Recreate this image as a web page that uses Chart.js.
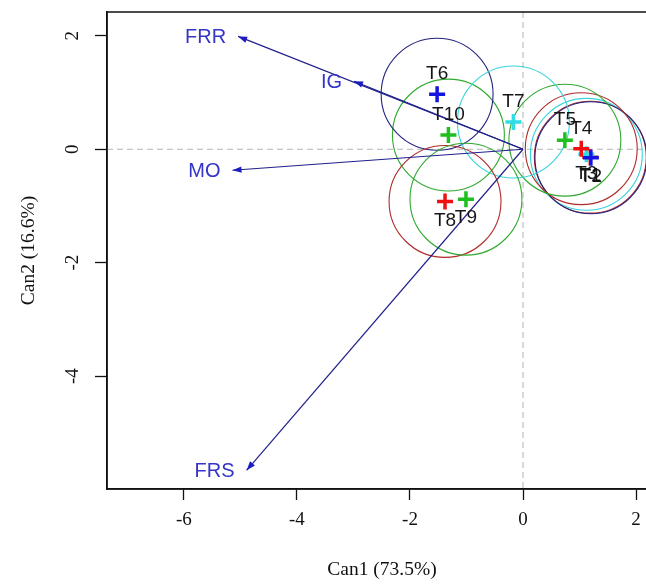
<!DOCTYPE html>
<html>
<head>
<meta charset="utf-8">
<script src="https://cdn.jsdelivr.net/npm/chart.js@4.4.1/dist/chart.umd.min.js"></script>
<style>
  html, body { margin: 0; padding: 0; background: #fff; overflow: hidden; }
  #wrap { width: 658px; height: 585px; }
  #c { width: 658px; height: 585px; }
</style>
</head>
<body>
<div id="wrap"><canvas id="c" width="658" height="585"></canvas></div>
<script>
// Group means on the first two canonical dimensions (drawn in factor-level order)
const groups = ['T1', 'T10', 'T3', 'T2', 'T4', 'T5', 'T6', 'T7', 'T8', 'T9'];
const can1   = [1.19, -1.32, 1.12, 1.20, 1.03, 0.74, -1.52, -0.17, -1.38, -1.01];
const can2   = [-0.14, 0.25, -0.09, -0.15, 0.01, 0.16, 0.97, 0.48, -0.92, -0.88];
// Radius of the confidence circle around each mean (canonical units)
const circleRadius = [0.99, 0.99, 0.99, 0.99, 0.99, 0.99, 0.99, 0.99, 0.99, 0.99];

// Structure coefficients of the response variables
const vars = ['FRR', 'IG', 'MO', 'FRS'];
const vecX = [-5.04, -2.99, -5.14, -4.89];
const vecY = [1.99, 1.20, -0.37, -5.66];

// Axis ticks and limits
const xTicks = [-6, -4, -2, 0, 2];
const yTicks = [2, 0, -2, -4];
const xLimits = [-7.36, 2.37];
const yLimits = [-5.99, 2.42];

// Styles
const pointColors  = ['#ee1111', '#1fbf1f', '#2fdde4', '#1414e0', '#ee1111', '#1fbf1f', '#1414e0', '#2fdde4', '#ee1111', '#1fbf1f'];
const circleColors = ['#b02a2a', '#2fa92f', '#38d4dc', '#23237f', '#b02a2a', '#2fa92f', '#23237f', '#38d4dc', '#b02a2a', '#2fa92f'];
const labelSide    = ['below', 'above', 'below', 'below', 'above', 'above', 'above', 'above', 'below', 'below'];

const overlay = {
  id: 'overlay',
  beforeDatasetsDraw(chart) {
    const { ctx, chartArea: a, scales: { x, y } } = chart;
    ctx.save();
    ctx.beginPath();
    ctx.rect(a.left, a.top, a.right - a.left, a.bottom - a.top);
    ctx.clip();
    // dashed reference lines through the origin
    const x0 = x.getPixelForValue(0), y0 = y.getPixelForValue(0);
    ctx.strokeStyle = '#b5b5b5';
    ctx.lineWidth = 1;
    ctx.setLineDash([6, 4]);
    ctx.beginPath();
    ctx.moveTo(x0, a.top); ctx.lineTo(x0, a.bottom);
    ctx.moveTo(a.left, y0); ctx.lineTo(a.right, y0);
    ctx.stroke();
    ctx.setLineDash([]);
    // confidence circles
    groups.forEach((g, i) => {
      const cx = x.getPixelForValue(can1[i]);
      const cy = y.getPixelForValue(can2[i]);
      const r = Math.abs(x.getPixelForValue(can1[i] + circleRadius[i]) - cx);
      ctx.strokeStyle = circleColors[i];
      ctx.lineWidth = 1.1;
      ctx.beginPath();
      ctx.arc(cx, cy, r, 0, Math.PI * 2);
      ctx.stroke();
    });
    ctx.restore();
  },
  afterDatasetsDraw(chart) {
    const { ctx, chartArea: a, scales: { x, y } } = chart;
    ctx.save();
    const ox = x.getPixelForValue(0), oy = y.getPixelForValue(0);
    // arrowheads and variable names
    vars.forEach((v, i) => {
      const px = x.getPixelForValue(vecX[i]);
      const py = y.getPixelForValue(vecY[i]);
      const ang = Math.atan2(py - oy, px - ox);
      const L = 9, W = 3.2;
      const bx = px - L * Math.cos(ang), by = py - L * Math.sin(ang);
      ctx.fillStyle = '#1c1cc0';
      ctx.beginPath();
      ctx.moveTo(px, py);
      ctx.lineTo(bx + W * Math.sin(ang), by - W * Math.cos(ang));
      ctx.lineTo(bx - W * Math.sin(ang), by + W * Math.cos(ang));
      ctx.closePath();
      ctx.fill();
      ctx.fillStyle = '#3434c8';
      ctx.font = '20px "Liberation Sans", Arial, sans-serif';
      ctx.textAlign = 'right';
      ctx.textBaseline = 'middle';
      ctx.fillText(v, px - 12, py + 1);
    });
    // group names
    ctx.fillStyle = '#151515';
    ctx.font = '19px "Liberation Sans", Arial, sans-serif';
    ctx.textAlign = 'center';
    ctx.textBaseline = 'middle';
    groups.forEach((g, i) => {
      const px = x.getPixelForValue(can1[i]);
      const py = y.getPixelForValue(can2[i]);
      ctx.fillText(g, px, labelSide[i] === 'above' ? py - 20 : py + 19);
    });
    // plot frame (its right side lies just past the visible edge)
    ctx.strokeStyle = '#111';
    ctx.lineWidth = 1.5;
    ctx.strokeRect(a.left, a.top, a.right - a.left, a.bottom - a.top);
    ctx.restore();
  }
};

const serif = '"Liberation Serif", "Times New Roman", serif';

new Chart(document.getElementById('c'), {
  type: 'scatter',
  data: {
    datasets: [
      {
        type: 'scatter',
        data: groups.map((g, i) => ({ x: can1[i], y: can2[i] })),
        pointStyle: 'cross',
        pointRadius: 8,
        pointHoverRadius: 8,
        pointBorderWidth: 3.5,
        pointBorderColor: pointColors,
        pointBackgroundColor: pointColors,
        order: 0
      },
      ...vars.map((v, i) => ({
        type: 'line',
        label: v,
        data: [{ x: 0, y: 0 }, { x: vecX[i], y: vecY[i] }],
        borderColor: '#20208c',
        borderWidth: 1.2,
        pointRadius: 0,
        fill: false,
        tension: 0,
        order: 1
      }))
    ]
  },
  options: {
    responsive: false,
    maintainAspectRatio: false,
    animation: false,
    devicePixelRatio: 1,
    events: [],
    layout: { autoPadding: false, padding: { top: 12, right: 1, left: 0, bottom: 0 } },
    plugins: { legend: { display: false }, tooltip: { enabled: false } },
    scales: {
      x: {
        type: 'linear',
        min: xLimits[0],
        max: xLimits[1],
        afterFit(s) { s.height = 96; s.paddingLeft = 0; s.paddingRight = 0; },
        afterBuildTicks(s) { s.ticks = xTicks.map(v => ({ value: v })); },
        grid: { display: true, drawOnChartArea: false, drawTicks: true, tickLength: 11, tickColor: '#111', tickWidth: 1.3, color: '#111' },
        border: { display: true, color: '#111', width: 1.5 },
        ticks: { color: '#111', font: { family: serif, size: 19 }, padding: 9, maxRotation: 0, autoSkip: false },
        title: { display: true, text: 'Can1 (73.5%)', color: '#111', font: { family: serif, size: 19.5 }, padding: { top: 0, bottom: 3 } }
      },
      y: {
        type: 'linear',
        min: yLimits[0],
        max: yLimits[1],
        afterFit(s) { s.width = 107; s.paddingTop = 0; s.paddingBottom = 0; },
        afterBuildTicks(s) { s.ticks = yTicks.map(v => ({ value: v })); },
        grid: { display: true, drawOnChartArea: false, drawTicks: true, tickLength: 12, tickColor: '#111', tickWidth: 1.3, color: '#111' },
        border: { display: true, color: '#111', width: 1.5 },
        ticks: { color: '#111', font: { family: serif, size: 19 }, padding: 14, minRotation: 90, maxRotation: 90, crossAlign: 'center', autoSkip: false },
        title: { display: true, text: 'Can2 (16.6%)', color: '#111', font: { family: serif, size: 19.5 }, padding: { top: 17, bottom: 0 } }
      }
    }
  },
  plugins: [overlay]
});
</script>
</body>
</html>
